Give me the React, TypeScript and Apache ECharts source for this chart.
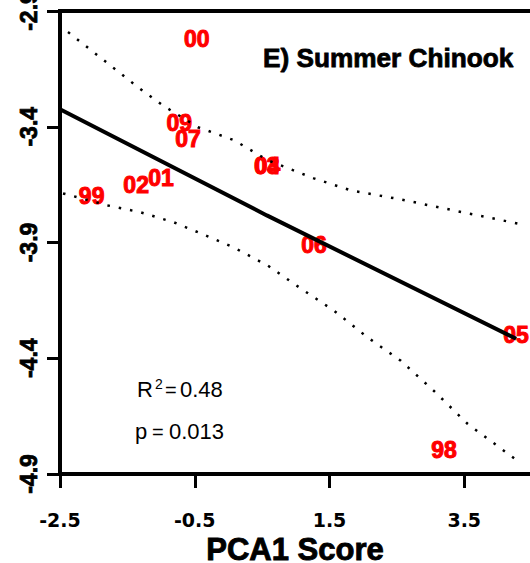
import React, { useEffect, useRef } from "react";
import * as echarts from "echarts";

// Year labels and their coordinates (PCA1 score, log value)
const years = ["98", "99", "00", "01", "02", "03", "04", "05", "06", "07", "09"];
const pca1 = [3.2, -2.03, -0.47, -1.0, -1.37, 0.57, 0.58, 4.27, 1.27, -0.6, -0.73];
const response = [-4.796, -3.697, -3.02, -3.623, -3.653, -3.571, -3.568, -4.3, -3.909, -3.454, -3.385];

// Fitted regression line
const fitX = [-2.5, 0.57, 4.27];
const fitY = [-3.324, -3.783, -4.316];

// Upper 95% band
const upperX = [-2.381, -1.892, -1.343, -0.957, -0.453, 0.082, 0.586, 1.269, 1.818, 2.559, 3.553, 4.295];
const upperY = [-2.991, -3.103, -3.229, -3.311, -3.402, -3.458, -3.545, -3.623, -3.675, -3.714, -3.774, -3.818];

// Lower 95% band
const lowerX = [-2.455, -1.788, -1.298, -0.809, -0.408, 0.082, 0.586, 1.076, 1.565, 2.07, 2.559, 3.049, 3.553, 4.295];
const lowerY = [-3.688, -3.74, -3.77, -3.813, -3.861, -3.922, -4.0, -4.099, -4.194, -4.311, -4.411, -4.541, -4.684, -4.844];

// Tick labels
const xTicks = [-2.5, -0.5, 1.5, 3.5];
const yTicks = [-4.9, -4.4, -3.9, -3.4, -2.9];

const title = "E) Summer Chinook";
const xTitle = "PCA1 Score";
const r2Text = "0.48";
const pText = "0.013";

const pairs = (xs: number[], ys: number[]) => xs.map((x, i) => [x, ys[i]]);

export default function App() {
  const ref = useRef<HTMLDivElement>(null);
  useEffect(() => {
    const chart = echarts.init(ref.current!, null, { renderer: "svg" });
    const arial = "Liberation Sans";
    const txt = (text: string, x: number, y: number, font: string, align = "left", stroke = 0) => ({
      type: "text",
      x,
      y,
      style: {
        text,
        font,
        fill: "#000",
        align,
        verticalAlign: "middle",
        ...(stroke ? { stroke: "#000", lineWidth: stroke } : {}),
      },
    });
    chart.setOption({
      animation: false,
      backgroundColor: "#fff",
      grid: {
        left: 60,
        top: 11,
        width: 539,
        height: 463,
        outerBoundsMode: "none",
        containLabel: false,
        show: true,
        borderColor: "#000",
        borderWidth: 4,
        backgroundColor: "transparent",
      },
      xAxis: {
        type: "value",
        min: -2.5,
        max: 5.5,
        axisLine: { onZero: false, lineStyle: { color: "#000", width: 4 } },
        axisTick: { customValues: xTicks, length: 14, lineStyle: { color: "#000", width: 3 } },
        axisLabel: {
          customValues: xTicks,
          margin: 36,
          color: "#000",
          fontFamily: "DejaVu Sans",
          fontWeight: "bold",
          fontSize: 19,
          formatter: (v: number) => v.toFixed(1),
        },
        splitLine: { show: false },
      },
      yAxis: {
        type: "value",
        min: -4.9,
        max: -2.9,
        axisLine: { onZero: false, lineStyle: { color: "#000", width: 4 } },
        axisTick: { customValues: yTicks, length: 13, lineStyle: { color: "#000", width: 3 } },
        axisLabel: {
          customValues: yTicks,
          rotate: 90,
          margin: 20,
          color: "#000",
          fontFamily: arial,
          fontWeight: "bold",
          fontSize: 23,
          textBorderColor: "#000",
          textBorderWidth: 0.8,
          formatter: (v: number) => v.toFixed(1),
        },
        splitLine: { show: false },
      },
      series: [
        {
          type: "line",
          data: pairs(upperX, upperY),
          showSymbol: false,
          lineStyle: { color: "#000", width: 2.5, type: [2.5, 9] },
        },
        {
          type: "line",
          data: pairs(lowerX, lowerY),
          showSymbol: false,
          lineStyle: { color: "#000", width: 2.5, type: [2.5, 9] },
        },
        {
          type: "line",
          data: pairs(fitX, fitY),
          showSymbol: false,
          lineStyle: { color: "#000", width: 4 },
        },
        {
          type: "scatter",
          symbolSize: 1,
          itemStyle: { color: "transparent", opacity: 1 },
          data: years.map((y, i) => ({ name: y, value: [pca1[i], response[i]] })),
          label: {
            show: true,
            position: "inside",
            formatter: (p: any) => p.name,
            color: "#ff0000",
            opacity: 1,
            fontFamily: arial,
            fontWeight: "bold",
            fontSize: 23,
            textBorderColor: "#ff0000",
            textBorderWidth: 1,
          },
        },
      ],
      graphic: [
        txt(title, 263, 58, `bold 26.2px '${arial}'`, "left", 0.8),
        txt(xTitle, 295, 549, `bold 31px '${arial}'`, "center", 0.9),
        txt("R", 137, 389, `22px '${arial}'`),
        txt("2", 155, 384, `14px '${arial}'`),
        txt("=", 165, 390, `20px '${arial}'`),
        txt(r2Text, 180, 389, `22px '${arial}'`),
        txt("p", 135, 431, `22px '${arial}'`),
        txt("=", 152, 432, `20px '${arial}'`),
        txt(pText, 169, 431, `22px '${arial}'`),
      ],
    });
    return () => chart.dispose();
  }, []);
  return (
    <div
      ref={ref}
      style={{ position: "absolute", left: 0, top: 0, width: 530, height: 563, overflow: "hidden", background: "#fff" }}
    />
  );
}
